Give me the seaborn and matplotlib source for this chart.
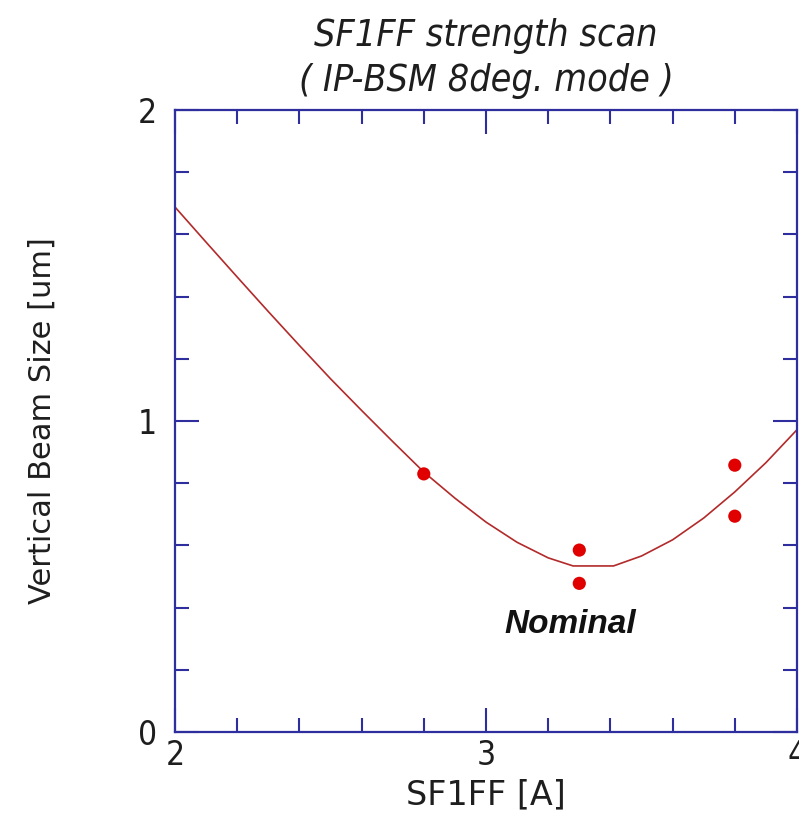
import matplotlib
matplotlib.use("Agg")
import matplotlib.pyplot as plt
from matplotlib.ticker import MultipleLocator
import seaborn as sns
import pandas as pd

# Measured beam sizes vs. SF1FF current
current_A = [2.8, 3.3, 3.3, 3.8, 3.8]
beam_size_um = [0.83, 0.585, 0.478, 0.858, 0.694]

# Fitted curve through the scan
fit_current_A = [2.0, 2.1, 2.2, 2.3, 2.4, 2.5, 2.6, 2.7, 2.8, 2.9, 3.0,
                 3.1, 3.2, 3.28, 3.41, 3.5, 3.6, 3.7, 3.8, 3.9, 4.0]
fit_size_um = [1.688, 1.575, 1.463, 1.352, 1.243, 1.136, 1.034, 0.934, 0.836,
               0.752, 0.675, 0.610, 0.560, 0.534, 0.534, 0.566, 0.618, 0.688,
               0.772, 0.866, 0.972]

title_lines = ["SF1FF strength scan", "( IP-BSM 8deg. mode )"]
x_label = "SF1FF [A]"
y_label = "Vertical Beam Size [um]"
annotation = "Nominal"

sns.set_theme(style="white")
plt.rcParams["font.family"] = ["DejaVu Sans"]

axis_blue = "#2e2e9e"
text_col = "#1e1e1e"
fig = plt.figure(figsize=(7.99, 8.39), dpi=100)
ax = fig.add_axes([0.219, 0.1275, 0.7785, 0.7414])

fit_df = pd.DataFrame({"x": fit_current_A, "y": fit_size_um})
pts_df = pd.DataFrame({"x": current_A, "y": beam_size_um})

sns.lineplot(data=fit_df, x="x", y="y", ax=ax, color="#b22a2a", linewidth=1.2)
sns.scatterplot(data=pts_df, x="x", y="y", ax=ax, color="#e00000", s=90,
                edgecolor="none", zorder=3)

ax.set_xlim(2, 4)
ax.set_ylim(0, 2)
ax.xaxis.set_major_locator(MultipleLocator(1))
ax.xaxis.set_minor_locator(MultipleLocator(0.2))
ax.yaxis.set_major_locator(MultipleLocator(1))
ax.yaxis.set_minor_locator(MultipleLocator(0.2))

for side in ax.spines.values():
    side.set_color(axis_blue)
    side.set_linewidth(1.6)

ax.tick_params(which="both", direction="in", bottom=True, left=True,
               top=True, right=True, color=axis_blue, width=1.5)
ax.tick_params(which="major", length=17, labelsize=24)
ax.tick_params(which="minor", length=10)
ax.tick_params(axis="x", which="major", pad=5)
ax.tick_params(axis="y", which="major", pad=13)
for lbl in ax.get_xticklabels() + ax.get_yticklabels():
    lbl.set_fontstretch("condensed")
    lbl.set_color(text_col)

ax.set_xlabel(x_label, fontsize=24, color=text_col)
ax.set_ylabel(y_label, fontsize=22, color=text_col)
ax.xaxis.set_label_coords(0.5, -0.075)
ax.yaxis.set_label_coords(-0.19, 0.5)

ax.set_title("\n".join(title_lines), fontsize=27, style="italic",
             fontstretch="condensed", color=text_col, pad=14,
             linespacing=1.3)

ax.text(3.27, 0.345, annotation, fontsize=24, style="italic", weight="bold",
        family="Liberation Sans", ha="center", va="center", color="#111111")

fig.savefig("out.png", dpi=100)
